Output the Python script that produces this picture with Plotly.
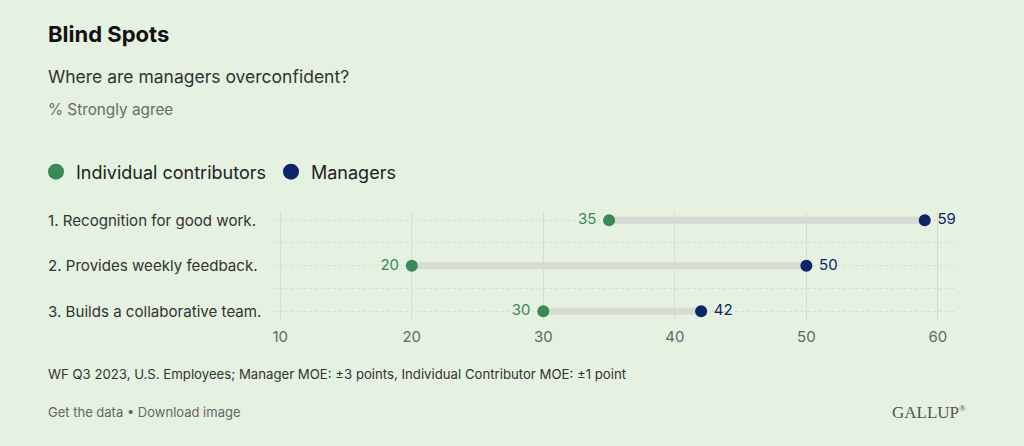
import plotly.graph_objects as go

categories = ["1. Recognition for good work.", "2. Provides weekly feedback.", "3. Builds a collaborative team."]
individual = [35, 20, 30]
managers = [59, 50, 42]
x_ticks = [10, 20, 30, 40, 50, 60]

GREEN = "#3b8a55"
NAVY = "#0c2468"
BG = "#e5f1e1"
FONT = "Inter"

ypos = list(range(len(categories)))

# plot area in pixels
L, R, T, B = 273, 955, 212, 320
W, H = 1024, 446

def px(x):
    return (x - L) / (R - L)

def py(y):
    return (B - y) / (B - T)

fig = go.Figure()

# connectors
cx, cy = [], []
for i, (a, b) in enumerate(zip(individual, managers)):
    cx += [a, b, None]
    cy += [i, i, None]
fig.add_trace(go.Scatter(x=cx, y=cy, mode="lines", line=dict(color="#d6dbd4", width=7),
                         hoverinfo="skip", showlegend=False))

fig.add_trace(go.Scatter(x=individual, y=ypos, mode="markers+text", name="Individual contributors",
                         marker=dict(color=GREEN, size=12), text=[str(v) + " " for v in individual],
                         textposition="middle left", textfont=dict(color=GREEN, size=15, family=FONT),
                         showlegend=False))
fig.add_trace(go.Scatter(x=managers, y=ypos, mode="markers+text", name="Managers",
                         marker=dict(color=NAVY, size=12), text=[" " + str(v) for v in managers],
                         textposition="middle right", textfont=dict(color=NAVY, size=15, family=FONT),
                         showlegend=False))

# legend entries
fig.add_trace(go.Scatter(x=[None], y=[None], mode="markers", name="Individual contributors",
                         marker=dict(color=GREEN, size=18)))
fig.add_trace(go.Scatter(x=[None], y=[None], mode="markers", name="Managers",
                         marker=dict(color=NAVY, size=18)))

fig.update_layout(
    width=W, height=H,
    paper_bgcolor=BG, plot_bgcolor=BG,
    margin=dict(l=L, r=W - R, t=T, b=H - B),
    font=dict(family=FONT, color="#333333"),
    showlegend=True,
    legend=dict(orientation="h", x=px(36), xanchor="left", y=py(172), yanchor="middle",
                font=dict(size=18, color="#222222", family=FONT), bgcolor="rgba(0,0,0,0)",
                itemwidth=30, tracegroupgap=0),
    xaxis=dict(range=[9.45, 61.3], tickvals=x_ticks, showgrid=True, gridcolor="#d3dfd1",
               gridwidth=1, zeroline=False, showline=False, ticks="", ticklabelstandoff=6,
               tickfont=dict(size=15, color="#666666", family=FONT), fixedrange=True),
    yaxis=dict(range=[2.19, -0.18], tickvals=ypos, showticklabels=False, showgrid=True,
               gridcolor="#d3dfd1", griddash="dot", gridwidth=1, zeroline=False, showline=False,
               ticks="",
               minor=dict(tick0=0, dtick=0.5, showgrid=True, gridcolor="#d3dfd1", griddash="dot"),
               fixedrange=True),
)

# left-aligned category labels
for i, c in enumerate(categories):
    fig.add_annotation(text=c, xref="paper", yref="y", x=px(46), y=i, xanchor="left",
                       yanchor="middle", showarrow=False,
                       font=dict(size=15.1, color="#333333", family=FONT))

annotations = [
    dict(text="<b>Blind Spots</b>", x=px(46), y=py(34), font=dict(size=22, color="#111111")),
    dict(text="Where are managers overconfident?", x=px(46), y=py(76), font=dict(size=17.5, color="#333333")),
    dict(text="% Strongly agree", x=px(46), y=py(109), font=dict(size=15.3, color="#6b6b6b")),
    dict(text="WF Q3 2023, U.S. Employees; Manager MOE: \u00b13 points, Individual Contributor MOE: \u00b11 point",
         x=px(46), y=py(374), font=dict(size=13.2, color="#333333")),
    dict(text="Get the data \u2022 Download image", x=px(46), y=py(412), font=dict(size=13, color="#666666")),
]
for a in annotations:
    a.update(xref="paper", yref="paper", xanchor="left", yanchor="middle", showarrow=False)
    fig.add_annotation(**a)
fig.add_annotation(text="GALLUP<sup><span style='font-size:9px'>\u00ae</span></sup>", xref="paper", yref="paper",
                   x=px(968), y=py(412), xanchor="right", yanchor="middle", showarrow=False,
                   font=dict(size=17, color="#555555", family="Liberation Serif"))

fig.write_html("out.html", config={"displayModeBar": False},
               post_script="document.body.style.margin='0';")
